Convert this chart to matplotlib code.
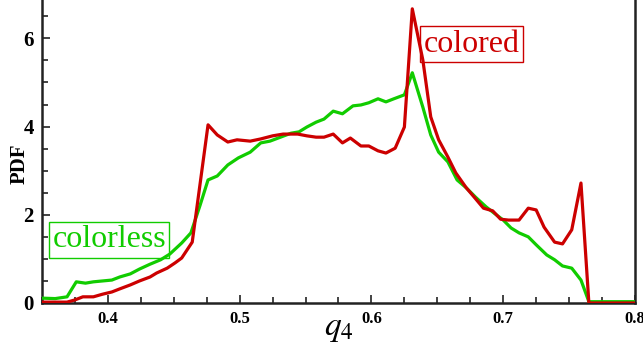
import matplotlib
matplotlib.use("Agg")
import matplotlib.pyplot as plt
from matplotlib.ticker import MultipleLocator

plt.rcParams['mathtext.fontset'] = 'stix'
plt.rcParams['font.family'] = ['Liberation Serif', 'DejaVu Serif']

colorless_x = [0.350, 0.360, 0.369, 0.376, 0.383, 0.389, 0.396, 0.403, 0.409, 0.417,
               0.424, 0.432, 0.440, 0.447, 0.456, 0.463, 0.470, 0.476, 0.483, 0.491,
               0.499, 0.508, 0.516, 0.523, 0.531, 0.539, 0.545, 0.551, 0.558, 0.564,
               0.571, 0.578, 0.586, 0.592, 0.598, 0.605, 0.611, 0.617, 0.625, 0.631,
               0.639, 0.645, 0.651, 0.658, 0.665, 0.672, 0.679, 0.687, 0.693, 0.700,
               0.706, 0.712, 0.719, 0.725, 0.733, 0.739, 0.745, 0.752, 0.759, 0.765,
               0.800]
colorless_pdf = [0.11, 0.10, 0.14, 0.48, 0.45, 0.48, 0.50, 0.52, 0.59, 0.66,
                 0.77, 0.88, 0.98, 1.11, 1.36, 1.59, 2.22, 2.79, 2.88, 3.13,
                 3.29, 3.42, 3.63, 3.67, 3.76, 3.85, 3.88, 3.99, 4.10, 4.17,
                 4.35, 4.29, 4.47, 4.49, 4.54, 4.63, 4.56, 4.63, 4.72, 5.22,
                 4.44, 3.81, 3.42, 3.20, 2.79, 2.61, 2.40, 2.18, 2.04, 1.88,
                 1.70, 1.59, 1.50, 1.32, 1.09, 0.98, 0.84, 0.79, 0.52, 0.03,
                 0.03]

colored_x = [0.350, 0.369, 0.375, 0.381, 0.389, 0.396, 0.403, 0.409, 0.417, 0.424,
             0.432, 0.437, 0.445, 0.451, 0.456, 0.464, 0.476, 0.483, 0.491, 0.498,
             0.508, 0.516, 0.525, 0.533, 0.544, 0.551, 0.558, 0.564, 0.571, 0.578,
             0.584, 0.592, 0.598, 0.605, 0.611, 0.618, 0.625, 0.631, 0.639, 0.645,
             0.651, 0.658, 0.664, 0.672, 0.678, 0.685, 0.692, 0.698, 0.704, 0.712,
             0.719, 0.725, 0.731, 0.739, 0.745, 0.752, 0.759, 0.765, 0.800]
colored_pdf = [0.02, 0.02, 0.07, 0.14, 0.14, 0.20, 0.25, 0.32, 0.41, 0.50,
               0.59, 0.68, 0.79, 0.91, 1.02, 1.38, 4.04, 3.81, 3.65, 3.70,
               3.67, 3.72, 3.79, 3.83, 3.83, 3.79, 3.76, 3.76, 3.83, 3.63,
               3.74, 3.56, 3.56, 3.45, 3.40, 3.51, 3.99, 6.67, 5.51, 4.22,
               3.70, 3.31, 2.95, 2.61, 2.40, 2.15, 2.09, 1.90, 1.88, 1.88,
               2.15, 2.11, 1.72, 1.38, 1.34, 1.66, 2.72, 0.00, 0.00]

x_ticks = [0.4, 0.5, 0.6, 0.7, 0.8]
y_ticks = [0, 2, 4, 6]

green = '#11cc00'
red = '#cc0000'

fig = plt.figure(figsize=(6.43, 3.49), dpi=100)
ax = fig.add_axes([42/643, 46/349, (635-42)/643, 303/349])

ax.plot(colorless_x, colorless_pdf, color=green, lw=2.3, zorder=3)
ax.plot(colored_x, colored_pdf, color=red, lw=2.3, zorder=4)

ax.set_xlim(0.35, 0.8)
ax.set_ylim(0, 6.87)
ax.set_xticks(x_ticks)
ax.set_xticklabels([f"{v:.1f}" for v in x_ticks])
ax.set_yticks(y_ticks)
ax.xaxis.set_minor_locator(MultipleLocator(0.025))
ax.yaxis.set_minor_locator(MultipleLocator(0.5))
ax.tick_params(which='both', direction='in', top=False, right=False, width=1.2, color='#222222')
ax.tick_params(which='major', length=6)
ax.tick_params(which='minor', length=4)
ax.tick_params(axis='x', labelsize=12, pad=6)
ax.tick_params(axis='y', labelsize=15, pad=6)
for lab in ax.get_xticklabels() + ax.get_yticklabels():
    lab.set_fontweight('bold')

ax.spines['top'].set_visible(False)
for s in ['left', 'bottom', 'right']:
    ax.spines[s].set_linewidth(1.8)
    ax.spines[s].set_color('#222222')

ax.set_xlabel('$q_4$', fontsize=24)
ax.xaxis.set_label_coords(0.50, -0.035)
ax.set_ylabel('PDF', fontsize=15, fontweight='bold')
ax.yaxis.set_label_coords(-0.037, 0.46)
ax.yaxis.label.set_va('center')

ax.text(0.401, 1.43, 'colorless', color=green, fontsize=23, ha='center', va='center',
        bbox=dict(boxstyle='square,pad=0.1', fc='white', ec=green, lw=1.0), zorder=2)
ax.text(0.676, 5.87, 'colored', color=red, fontsize=23, ha='center', va='center',
        bbox=dict(boxstyle='square,pad=0.1', fc='white', ec=red, lw=1.0), zorder=2)

fig.savefig('out.png', dpi=100)
